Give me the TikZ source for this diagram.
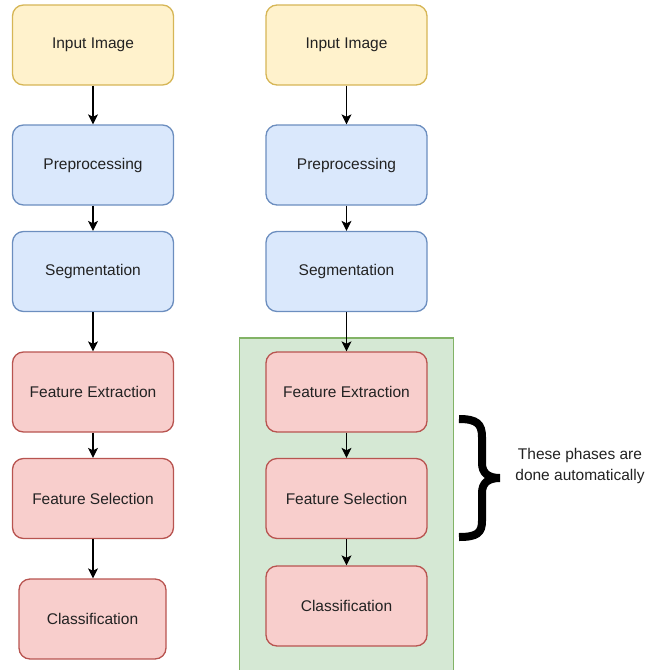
\documentclass[tikz,border=0pt]{standalone}
\usepackage{fontspec}
\setmainfont{Liberation Sans}
\usetikzlibrary{arrows.meta}
\definecolor{yfill}{HTML}{FFF2CC}\definecolor{ydraw}{HTML}{D6B656}
\definecolor{bfill}{HTML}{DAE8FC}\definecolor{bdraw}{HTML}{6C8EBF}
\definecolor{rfill}{HTML}{F8CECC}\definecolor{rdraw}{HTML}{B85450}
\definecolor{gfill}{HTML}{D5E8D4}\definecolor{gdraw}{HTML}{82B366}
\definecolor{txt}{HTML}{222222}
\tikzset{
  box/.style={rounded corners=11pt, line width=1.3pt, minimum width=161pt, minimum height=80pt, inner sep=0pt, text=txt, font=\fontsize{15.5}{19}\selectfont},
  ybox/.style={box, fill=yfill, draw=ydraw},
  bbox/.style={box, fill=bfill, draw=bdraw},
  rbox/.style={box, fill=rfill, draw=rdraw},
  conn/.style={line width=1.1pt, -{Stealth[length=10pt,width=10pt,inset=2.5pt]}}
}
\begin{document}
\begin{tikzpicture}[x=1pt,y=-1pt]
\useasboundingbox (0,0) rectangle (647,670);
\begin{scope}
\clip (0,0) rectangle (647,670);
\node[fill=gfill, draw=gdraw, line width=1.3pt, minimum width=214pt, minimum height=336pt, inner sep=0pt] (grp) at (346.5,506) {};
\end{scope}
% left column
\node[ybox] (li) at (93,45) {Input Image};
\node[bbox] (lp) at (93,165) {Preprocessing};
\node[bbox] (ls) at (93,271.5) {Segmentation};
\node[rbox] (le) at (93,392) {Feature Extraction};
\node[rbox] (lf) at (93,498.5) {Feature Selection};
\node[rbox, minimum width=147pt] (lc) at (92.5,619) {Classification};
% right column
\node[ybox] (ri) at (346.5,45) {Input Image};
\node[bbox] (rp) at (346.5,165) {Preprocessing};
\node[bbox] (rs) at (346.5,271.5) {Segmentation};
\node[rbox] (re) at (346.5,392) {Feature Extraction};
\node[rbox] (rf) at (346.5,498.5) {Feature Selection};
\node[rbox] (rc) at (346.5,606) {Classification};
% connectors
\draw[conn] (li) -- (lp);
\draw[conn] (lp) -- (ls);
\draw[conn] (ls) -- (le);
\draw[conn] (le) -- (lf);
\draw[conn] (lf.south) -- (lf.south |- lc.north);
\draw[conn] (ri) -- (rp);
\draw[conn] (rp) -- (rs);
\draw[conn] (rs) -- (re);
\draw[conn] (re) -- (rf);
\draw[conn] (rf) -- (rc);
% brace
\draw[line width=8pt, line cap=butt] (459,419) .. controls (477,419) and (482,424) .. (482,437) -- (482,463) .. controls (482,473) and (488,478) .. (500,478) .. controls (488,478) and (482,483) .. (482,493) -- (482,521) .. controls (482,533) and (477,537) .. (459,537);
\node[align=center, text=txt, font=\fontsize{15.5}{21}\selectfont, inner sep=0pt] (note) at (580,465.5) {These phases are\\done automatically};
\end{tikzpicture}
\end{document}
